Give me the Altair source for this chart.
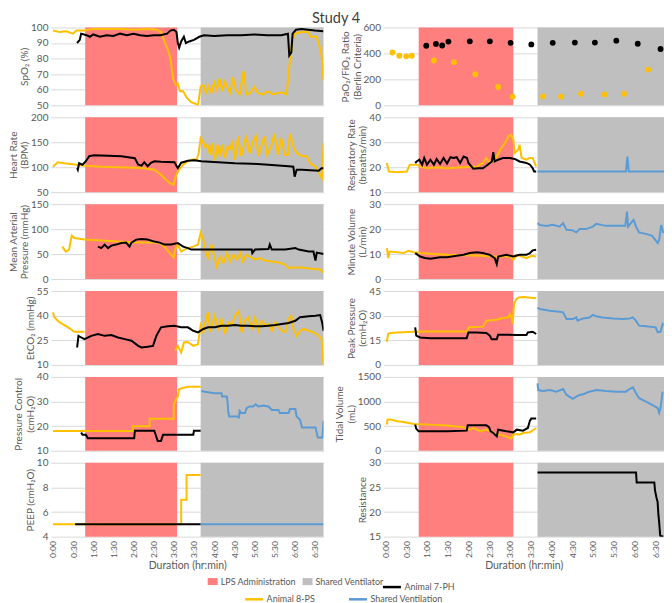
import altair as alt
import pandas as pd

FONT = "Lato"
TITLE = "Study 4"
X_TITLE = "Duration (hr:min)"
X_DOMAIN = [-3, 403]
X_TICKS = [0, 30, 60, 90, 120, 150, 180, 210, 240, 270, 300, 330, 360, 390]

PHASE_NAMES = ["LPS Administration", "Shared Ventilator"]
PHASE_START = [48, 220]
PHASE_END = [185, 403]
PHASE_COLORS = ["#FF7F7F", "#BFBFBF"]

S7 = "Animal 7-PH"
S8 = "Animal 8-PS"
SV = "Shared Ventilation"
COLOR_7PH = "#000000"
OTHER_SERIES = [S8, SV]
OTHER_COLORS = ["#FFC000", "#5B9BD5"]

# ---- data: (minutes, value); None breaks a line ----
SPO2_8PS = [(0,98),(10,97),(20,97.5),(30,96),(35,98),(47,98),(60,99),(80,99),(100,99),(120,98.5),(140,99),(155,98.5),(161,97),(166,91),(171,86),(175,80),(179,67),(183,63),(186,64),(189,59),(194,59),(199,55),(206,52),(212,51),(216,50),(220,62),(224,63),(228,58),(232,62),(236,58),(240,65),(244,60),(248,67),(252,59),(256,65),(260,61),(264,58),(268,68),(272,60),(278,57),(284,72),(288,57),(294,58),(300,62),(305,58),(312,57),(320,59),(328,57),(336,58),(342,58),(348,57),(352,75),(356,90),(360,96),(370,97),(380,97),(384,94),(392,94),(396,90),(400,82),(403,66)]
SPO2_7PH = [(36,90),(40,92),(42,96),(50,95),(55,94),(60,95.5),(70,94),(80,95),(90,94.5),(100,96),(110,95),(120,96),(130,95),(140,94.5),(150,95),(160,95),(170,96),(175,98),(180,98.5),(184,97),(186,90),(188,87),(191,91),(195,94),(198,90),(203,91),(210,92),(218,94),(225,95),(240,94.5),(260,95),(280,95),(300,95.5),(320,95),(340,95),(350,96),(352,82),(355,84),(357,96),(362,98.5),(370,99),(380,98.5),(390,98),(403,97.5)]

PF_8PS = [(10,407),(20,382),(30,377),(38,382),(70,345),(99,332),(130,240),(163,141),(184,67),(228,69),(254,67),(283,89),(317,84),(345,89),(380,275)]
PF_7PH = [(59,459),(73,473),(82,461),(91,491),(122,493),(151,493),(181,481),(211,469),(242,481),(274,483),(303,483),(334,498),(365,474),(398,434)]

HR_8PS = [(0,101),(7,110),(17,108),(47,103),(72,101),(122,99),(136,98),(151,95),(161,85),(166,78),(174,68),(180,65),(182,78),(186,91),(194,105),(201,112),(209,116),(214,115),(217,128),(220,158),(224,149),(227,140),(230,145),(234,125),(237,148),(241,112),(245,145),(249,122),(252,145),(256,118),(260,142),(263,135),(267,148),(271,115),(276,162),(280,122),(283,135),(288,164),(293,128),(298,152),(302,162),(306,122),(311,145),(315,162),(319,125),(325,142),(330,167),(335,125),(340,158),(345,125),(350,125),(353,167),(358,142),(363,128),(371,122),(378,122),(383,108),(391,101),(398,85),(401,78),(403,148)]
HR_7PH = [(36,98),(37,95),(39,108),(44,105),(49,112),(54,122),(61,124),(82,123),(102,122),(122,118),(127,105),(132,103),(136,110),(141,102),(146,109),(151,112),(161,111),(181,110),(186,98),(191,109),(201,113),(211,114),(221,112),(246,110),(271,108),(296,107),(321,105),(351,102),(358,101),(360,81),(363,95),(371,95),(396,93),(400,98),(403,98)]

RR_8PS = [(2,21.7),(5,18.3),(17,18),(31,18.3),(35,21),(45,21),(50,20.3),(60,19.6),(74,20),(89,19.6),(113,20),(132,20.3),(141,21.7),(146,23.7),(151,21.7),(156,22.3),(161,24.3),(166,27),(173,29.7),(178,32.4),(182,33),(185,31),(187,25.7),(192,27),(194,29),(197,23.7),(204,23),(209,23.7),(213,23.7),(218,20.3)]
RR_7PH = [(43,21.7),(45,22.3),(49,23),(53,21),(56,23.7),(60,21),(65,23),(70,21),(74,23.3),(79,21.3),(84,23.7),(89,21.5),(94,24),(98,23.7),(103,24),(108,21.7),(113,24.3),(118,23.7),(120,21.7),(127,19.4),(134,19.6),(141,19.6),(146,20.6),(154,22.3),(156,26),(158,22.3),(163,23),(170,23.7),(180,23.7),(187,23.3),(194,22.3),(204,21.7),(209,21),(213,19.6),(215,18.3),(218,18.3)]
RR_SV = [(220,18.3),(348,18.3),(350,24.3),(352,18.3),(403,18.3)]

MAP_8PS = [(14,65),(19,55),(24,59),(28,87),(32,82),(47,79),(72,77),(97,75),(122,73),(146,73),(159,72),(166,65),(174,52),(180,43),(182,59),(186,69),(191,55),(196,59),(201,62),(209,65),(216,69),(220,92),(224,79),(227,55),(231,42),(236,69),(244,25),(249,45),(254,32),(259,52),(264,35),(269,49),(274,39),(279,52),(283,35),(288,49),(293,45),(301,39),(308,42),(316,37),(326,35),(336,33),(346,29),(351,22),(361,23),(371,23),(381,21),(391,20),(398,19),(403,13)]
MAP_7PH = [(67,65),(72,62),(77,69),(82,62),(87,67),(94,69),(102,72),(109,73),(114,65),(117,73),(124,79),(132,80),(141,79),(151,75),(159,73),(166,69),(171,69),(176,69),(186,72),(194,65),(201,62),(206,59),(221,59),(246,59),(271,59),(296,59),(297,52),(301,59),(321,60),(323,69),(326,59),(346,59),(361,62),(366,59),(381,55),(388,55),(391,37),(393,53),(403,50)]

MV_8PS = [(2,12.4),(4,8.4),(6,11),(17,10.7),(26,10.4),(33,11.3),(41,10.7),(50,10.4),(65,10.1),(89,9.7),(113,9.5),(137,9.3),(161,9),(180,9),(185,7.7),(190,9.7),(197,9),(204,8.4),(211,9.3),(218,9)]
MV_7PH = [(43,10.4),(50,9),(57,8.4),(65,8.1),(79,8.7),(89,8.7),(103,9.3),(113,9.7),(122,10.4),(132,10.7),(141,10.4),(151,9.7),(158,8.4),(161,6),(163,9),(175,9.7),(185,9),(194,9.7),(204,9.7),(209,10.4),(213,11.5),(218,11.7)]
MV_SV = [(220,22.4),(223,21.7),(233,21.3),(242,21.7),(252,21),(257,22.4),(262,19.7),(271,19.5),(276,18.7),(281,20),(290,20),(300,21),(305,22.1),(319,21.3),(334,21.3),(347,21.3),(349.5,27),(351,21),(355,22.4),(359,23.7),(362.5,21),(367,18.7),(377,18.1),(386,17.3),(394,14.4),(396,15.7),(399,21.7),(402,18.4)]

ETCO2_8PS = [(0,42),(2,39),(9.5,36),(22,33),(32,30.2),(47,30.2), None, (182,18.6),(186,21.6),(191,17.6),(195,23.7),(201,24),(209,21.6),(216,22.6),(220,34),(224,29.8),(227,36),(231,42),(234,30),(236,33),(241,40),(246,31.9),(251,38),(256,28.8),(261,36),(266,33.9),(271,40),(277,43),(281,29.8),(286,37),(291,39),(296,31.9),(301,39),(306,30.8),(311,37),(316,33.9),(321,34.9),(326,30.8),(331,36),(336,32.9),(341,30.8),(346,29.8),(351,38),(355,40),(358,31.9),(363,27.8),(368,30.8),(373,31.9),(381,30.8),(388,29.8),(396,27.8),(400,25.7),(403,10)]
ETCO2_7PH = [(36,20.6),(38,27.7),(42,26.7),(47,25.7),(57,27.7),(67,28.8),(77,27.7),(87,28.2),(97,26.7),(107,25.7),(117,24.7),(127,21.6),(132,20.6),(141,21),(149,21.6),(154,27.7),(161,32.9),(171,33.5),(181,33.9),(191,32.9),(201,32.9),(209,30.8),(216,29.8),(224,31.9),(231,32.9),(241,32.9),(251,33.9),(261,33.9),(271,34.3),(281,33.9),(291,33.9),(301,33.5),(311,33.5),(321,33.9),(331,34.3),(341,34.9),(351,35.5),(361,36.9),(368,39),(381,39.6),(391,40),(398,40.4),(401,35.9),(403,30.8)]

PEAK_8PS = [(2,14),(3.7,18.8),(7,19.4),(17,19.8),(41,20.2),(65,20.4),(89,20.4),(117,20.4),(121,22.9),(141,23.3),(146,26.9),(161,27.5),(166,28.3),(178,29),(180,31),(182,29.5),(184,25),(186,37),(189,40),(193,41),(200,41.3),(218,40.6)]
PEAK_7PH = [(43,22.9),(44.5,17.8),(50,16.7),(65,16.3),(89,16.3),(117.5,16.3),(120,19.8),(132,19.8),(146,19.4),(151,17.8),(153.6,15.7),(161,15.7),(163,18.4),(175,18.4),(190,18.2),(204,18.2),(206,19.8),(213,20.2),(218,18.8)]
PEAK_SV = [(220,35),(223,34),(238,33),(252,32.4),(257,32),(262,27.9),(271,27.9),(276,28.9),(278,26.9),(286,28.3),(295,28.9),(300,30.4),(305,29.6),(314,28.9),(329,28.3),(343,27.9),(353,28.3),(358,29),(362.5,26.9),(367,23.9),(377,23.5),(391,22.9),(394,19.8),(398,20.2),(401,24.9),(402,24.3)]

PC_8PS = [(0,18),(119,18),(119,20),(144,20),(144,23),(180,23),(180,28.7),(183,30.7),(186,32),(188,35),(193,35.5),(201,36),(220,36)]
PC_7PH = [(42,17.4),(44,16.5),(49,16.5),(52,15.1),(121,15.1),(122,18.1),(151,18.1),(153,16.5),(156,14),(161,14),(164,16.5),(209,16.5),(210,18.1),(220,18.1)]
PC_SV = [(221,34.3),(226,34),(241,33.4),(251,33.4),(252,32),(259,32),(260,30),(261,26),(262.5,23.9),(276,23.9),(277,23.2),(278,26.2),(281,25.3),(286,25.3),(288.5,27.3),(293,28),(298,28),(302,28.9),(306,28),(313,28.4),(321,28),(326,26.6),(336,26.6),(338,25.3),(351,25.3),(353,27),(361,27),(363,23.9),(368,22.6),(371,19.5),(391,19.5),(394.5,15.4),(401.5,15.4),(403,22.2)]

TV_8PS = [(2,531),(3,633),(7,633),(17,600),(26,586),(41,545),(65,531),(89,511),(113,477),(122,429),(127,463),(137,395),(146,429),(156,361),(166,327),(175,293),(182,245),(185,327),(190,340),(194,327),(199,361),(209,374),(218,463)]
TV_7PH = [(43,531),(44.5,449),(48,395),(65,395),(89,395),(117.5,409),(119,517),(146,517),(150,477),(152,395),(156,361),(161,293),(162,361),(163,429),(175,395),(185,374),(190,429),(199,409),(206,463),(209,613),(211,654),(218,654)]
TV_SV = [(220,1367),(221,1233),(228,1213),(238,1233),(247,1200),(257,1253),(262,1133),(266,1100),(271,1053),(276,1100),(281,1133),(286,1147),(295,1200),(305,1233),(319,1213),(334,1200),(348,1200),(353,1253),(358,1287),(362.5,1167),(367,1067),(377,1000),(386,933),(394,867),(396,772),(398,873),(401,1200)]

PEEP_8PS = [(0,5),(191,5),(191,7),(199,7),(199,9),(220,9)]
PEEP_7PH = [(33,5),(220,5)]
PEEP_SV = [(220,5),(403,5)]

RES_7PH = [(220,28),(362.5,28),(363.5,26),(389,26),(390,24.4),(392,23),(393.7,22.1),(395,19.3),(396,17.9),(397.5,15.2),(402,15)]

# ---- panels (row-major: left, right) ----
PANELS = [
    dict(title="SpO₂ (%)", lo=50, hi=100, step=10, lines=[(S8, SPO2_8PS), (S7, SPO2_7PH)]),
    dict(title=["PaO₂/FiO₂ Ratio", "(Berlin Criteria)"], lo=0, hi=600, step=200, points=[(S8, PF_8PS, "#FFC000"), (S7, PF_7PH, "#000000")]),
    dict(title=["Heart Rate", "(BPM)"], lo=50, hi=200, step=50, lines=[(S8, HR_8PS), (S7, HR_7PH)]),
    dict(title=["Respiratory Rate", "(breaths/min)"], lo=10, hi=40, step=10, lines=[(S8, RR_8PS), (S7, RR_7PH), (SV, RR_SV)]),
    dict(title=["Mean Arterial", "Pressure (mmHg)"], lo=0, hi=150, step=50, lines=[(S8, MAP_8PS), (S7, MAP_7PH)]),
    dict(title=["Minute Volume", "(L/min)"], lo=0, hi=30, step=10, lines=[(S8, MV_8PS), (S7, MV_7PH), (SV, MV_SV)]),
    dict(title="EtCO₂ (mmHg)", lo=10, hi=55, step=15, lines=[(S8, ETCO2_8PS), (S7, ETCO2_7PH)]),
    dict(title=["Peak Pressure", "(cmH₂O)"], lo=0, hi=45, step=15, lines=[(S8, PEAK_8PS), (S7, PEAK_7PH), (SV, PEAK_SV)]),
    dict(title=["Pressure Control", "(cmH₂O)"], lo=10, hi=40, step=10, lines=[(S8, PC_8PS), (S7, PC_7PH), (SV, PC_SV)]),
    dict(title=["Tidal Volume", "(mL)"], lo=0, hi=1500, step=500, lines=[(S8, TV_8PS), (S7, TV_7PH), (SV, TV_SV)]),
    dict(title="PEEP (cmH₂O)", lo=4, hi=10, step=2, lines=[(S8, PEEP_8PS), (S7, PEEP_7PH), (SV, PEEP_SV)]),
    dict(title="Resistance", lo=15, hi=30, step=5, lines=[(S7, RES_7PH)]),
]

COL_W = [273, 281]
ROW_H = [78, 75, 75, 74, 74, 74]

FILL_LEGEND = alt.Legend(title=None, orient="none", legendX=157, legendY=550, direction="horizontal",
                         symbolType="M-1,-0.7H1V0.7H-1Z", symbolSize=100, symbolStrokeWidth=0,
                         labelOffset=3, columnPadding=6)
COLOR_LEGEND = alt.Legend(title=None, orient="none", legendX=331, legendY=550, direction="horizontal",
                          symbolType="stroke", symbolSize=324, symbolStrokeWidth=2.5, labelOffset=2)
STROKE_LEGEND = alt.Legend(title=None, orient="none", legendX=193, legendY=562, direction="horizontal",
                           symbolType="stroke", symbolSize=324, symbolStrokeWidth=2.5, labelOffset=2,
                           columnPadding=28)


def pts_df(points, name):
    rows, seg = [], 0
    for p in points:
        if p is None:
            seg += 1
            continue
        rows.append({"t": p[0], "v": p[1], "series": name, "seg": seg})
    return pd.DataFrame(rows)


def make_panel(i, spec):
    row, col = divmod(i, 2)
    bottom = row == 5
    lo, hi, step = spec["lo"], spec["hi"], spec["step"]
    xs = alt.Scale(domain=X_DOMAIN, nice=False, zero=False)
    ys = alt.Scale(domain=[lo, hi], nice=False, zero=False)
    if bottom:
        xaxis = alt.Axis(title=X_TITLE, values=X_TICKS,
                         labelExpr="floor(datum.value/60) + ':' + (datum.value % 60 < 10 ? '0' : '') + (datum.value % 60)",
                         labelAngle=-90, grid=False, domain=False, ticks=False, labelPadding=4,
                         labelFontSize=8.5, titlePadding=3, titleFontSize=10.5)
    else:
        xaxis = None
    yaxis = alt.Axis(title=spec["title"], values=list(range(lo, hi + 1, step)), grid=True,
                     domain=False, ticks=False, labelPadding=3, titlePadding=1, format="d")
    phases = pd.DataFrame({"phase": PHASE_NAMES, "start": PHASE_START, "end": PHASE_END,
                           "lo": [lo] * len(PHASE_NAMES), "hi": [hi] * len(PHASE_NAMES)})
    layers = [alt.Chart(phases).mark_rect().encode(
        x=alt.X("start:Q", scale=xs, axis=xaxis, title=X_TITLE),
        x2="end:Q",
        y=alt.Y("lo:Q", scale=ys, axis=yaxis, title=spec["title"]),
        y2="hi:Q",
        fill=alt.Fill("phase:N", scale=alt.Scale(domain=PHASE_NAMES, range=PHASE_COLORS), legend=FILL_LEGEND),
    )]
    for name, pts in spec.get("lines", []):
        df = pts_df(pts, name)
        enc = dict(x=alt.X("t:Q", scale=xs, axis=xaxis, title=X_TITLE),
                   y=alt.Y("v:Q", scale=ys, axis=yaxis, title=spec["title"]), detail="seg:N")
        if name == S7:
            enc["color"] = alt.Color("series:N", scale=alt.Scale(domain=[S7], range=[COLOR_7PH]), legend=COLOR_LEGEND)
        else:
            enc["stroke"] = alt.Stroke("series:N", scale=alt.Scale(domain=OTHER_SERIES, range=OTHER_COLORS), legend=STROKE_LEGEND)
        layers.append(alt.Chart(df).mark_line(strokeWidth=2, clip=True).encode(**enc))
    for name, pts, colr in spec.get("points", []):
        df = pts_df(pts, name)
        layers.append(alt.Chart(df).mark_circle(size=34, opacity=1, color=colr).encode(
            x=alt.X("t:Q", scale=xs, axis=xaxis, title=X_TITLE),
            y=alt.Y("v:Q", scale=ys, axis=yaxis, title=spec["title"])))
    return alt.layer(*layers).properties(width=COL_W[col], height=ROW_H[row])


panels = [make_panel(i, s) for i, s in enumerate(PANELS)]

chart = alt.concat(
    *panels, columns=2, spacing={"row": 12, "column": 60}, bounds="flush",
    title=alt.TitleParams(TITLE, anchor="middle", offset=-4,
                          fontSize=14.5, font=FONT, fontWeight="normal", color="#404040"),
).resolve_scale(
    x="independent", y="independent", fill="shared", color="shared", stroke="shared"
).properties(
    padding={"left": 0, "top": 2, "right": 0, "bottom": 0}
).configure_view(stroke=None).configure_axis(
    labelFont=FONT, titleFont=FONT, labelColor="#595959", titleColor="#595959",
    titleFontWeight="normal", gridColor="#D9D9D9", labelFontSize=10, titleFontSize=10,
    titleLineHeight=11.5,
).configure_legend(labelFont=FONT, labelColor="#595959", labelFontSize=9)

chart.save("out.html", embed_options={"renderer": "svg", "actions": False})
